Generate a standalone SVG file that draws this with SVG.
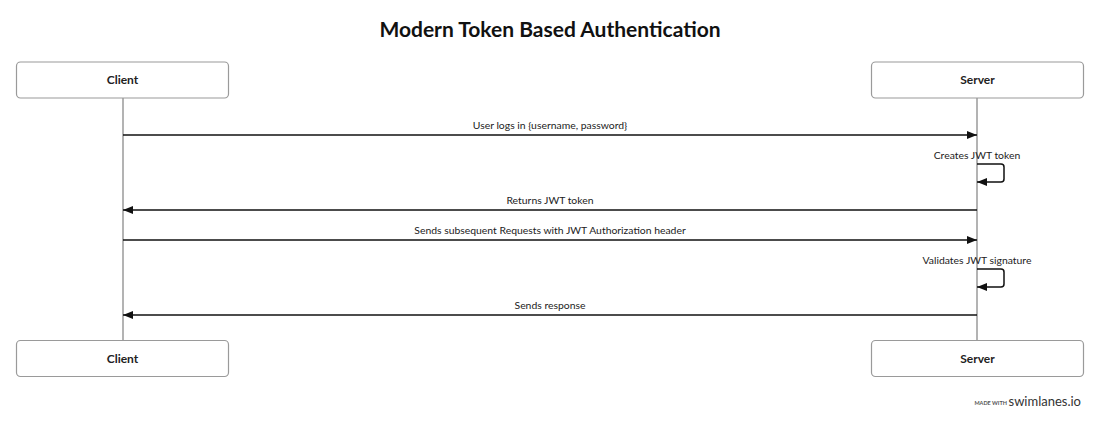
<svg xmlns="http://www.w3.org/2000/svg" width="1100" height="424" viewBox="0 0 1100 424">
<defs>
<style>
.box{fill:#fff;stroke:#9a9a9a;stroke-width:1.2}
.life{stroke:#9a9a9a;stroke-width:1.5}
.msg{stroke:#111;stroke-width:1.5;fill:none}
.lbl{font-family:Lato,"Open Sans",sans-serif;font-size:10.4px;fill:#222;text-anchor:middle}
.name{font-family:Lato,"Open Sans",sans-serif;font-size:12px;font-weight:bold;fill:#222;text-anchor:middle}
.title{font-family:Lato,"Open Sans",sans-serif;font-size:21px;font-weight:bold;fill:#111;text-anchor:middle}
</style>
<marker id="ah" viewBox="0 0 10 8" refX="10" refY="4" markerWidth="10" markerHeight="8" markerUnits="userSpaceOnUse" orient="auto">
<path d="M0,0 L10,4 L0,8 Z" fill="#111"/>
</marker>
</defs>
<rect width="1100" height="424" fill="#fff"/>
<text class="title" x="550" y="37">Modern Token Based Authentication</text>
<g id="lifelines">
<line class="life" x1="123" y1="98" x2="123" y2="341"/>
<line class="life" x1="977" y1="98" x2="977" y2="341"/>
</g>
<g id="client-top"><rect class="box" x="16.5" y="62" width="212" height="36" rx="4"/><text class="name" x="122.5" y="84">Client</text></g>
<g id="server-top"><rect class="box" x="871.5" y="62" width="212" height="36" rx="4"/><text class="name" x="977.5" y="84">Server</text></g>
<g id="client-bottom"><rect class="box" x="16.5" y="340.5" width="212" height="36" rx="4"/><text class="name" x="122.5" y="362.5">Client</text></g>
<g id="server-bottom"><rect class="box" x="871.5" y="340.5" width="212" height="36" rx="4"/><text class="name" x="977.5" y="362.5">Server</text></g>
<g id="connectors">
<line class="msg" x1="123" y1="135" x2="977" y2="135" marker-end="url(#ah)"/>
<text class="lbl" x="550" y="129">User logs in {username, password}</text>
<path class="msg" d="M977,164 H1001 Q1004,164 1004,167 V179 Q1004,182 1001,182 H977" marker-end="url(#ah)"/>
<text class="lbl" x="977" y="159">Creates JWT token</text>
<line class="msg" x1="977" y1="210" x2="123" y2="210" marker-end="url(#ah)"/>
<text class="lbl" x="550" y="204">Returns JWT token</text>
<line class="msg" x1="123" y1="240" x2="977" y2="240" marker-end="url(#ah)"/>
<text class="lbl" x="550" y="234">Sends subsequent Requests with JWT Authorization header</text>
<path class="msg" d="M977,269 H1001 Q1004,269 1004,272 V284 Q1004,287 1001,287 H977" marker-end="url(#ah)"/>
<text class="lbl" x="977" y="264">Validates JWT signature</text>
<line class="msg" x1="977" y1="315" x2="123" y2="315" marker-end="url(#ah)"/>
<text class="lbl" x="550" y="309">Sends response</text>
</g>
<g id="footer">
<text x="1007" y="405" font-family="Lato,'Open Sans',sans-serif" font-size="5.5" font-weight="bold" fill="#555" text-anchor="end">MADE WITH</text>
<text x="1081" y="406" font-family="Lato,'Open Sans',sans-serif" font-size="13" fill="#333" text-anchor="end">swimlanes.io</text>
</g>
</svg>
